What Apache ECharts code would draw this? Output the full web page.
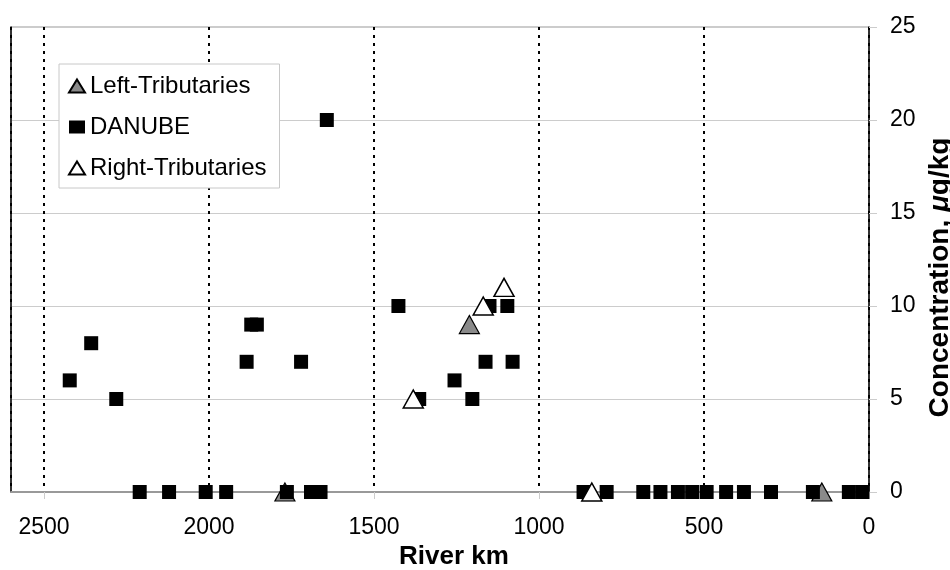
<!DOCTYPE html>
<html>
<head>
<meta charset="utf-8">
<script src="https://cdn.jsdelivr.net/npm/echarts@6/dist/echarts.min.js"></script>
<style>
html,body{margin:0;padding:0;background:#fff;}
#chart{width:950px;height:570px;}
</style>
</head>
<body>
<div id="chart"></div>
<script>
//数据：河流公里数 / 浓度
var danubeKm  = [2422, 2357, 2281, 2210, 2121, 2010, 1948, 1886, 1872, 1855, 1764, 1721, 1691, 1662, 1643,
                 1426, 1363, 1256, 1202, 1162, 1150, 1096, 1080, 865, 795, 684, 632, 579, 536, 492, 433, 379, 297, 170, 61, 20];
var danubeVal = [6, 8, 5, 0, 0, 0, 0, 7, 9, 9, 0, 7, 0, 0, 20,
                 10, 5, 6, 5, 7, 10, 10, 7, 0, 0, 0, 0, 0, 0, 0, 0, 0, 0, 0, 0, 0];
var leftKm    = [1770, 1211, 143];
var leftVal   = [0, 9, 0];
var rightKm   = [1381, 1169, 1106, 840];
var rightVal  = [5, 10, 11, 0];
var yTicks    = [0, 5, 10, 15, 20, 25];

function pairs(xs, ys){
	var arr = [];
	for (var i = 0; i < xs.length; i++) {
		arr.push([xs[i], ys[i]]);
	}
	return arr;
}

var font = '"Liberation Sans", Arial, Helvetica, sans-serif';
var myChart = echarts.init(document.getElementById('chart'));

var option = {
	backgroundColor: '#fff',
	animation: false,
	textStyle: { fontFamily: font, color: '#000' },
	grid: {
		left: 11, right: 81, top: 27, bottom: 78,
		outerBoundsMode: 'none',
		containLabel: false,
		show: true, borderColor: '#999', borderWidth: 1
	},
	legend: {
		orient: 'vertical',
		left: 59, top: 64,
		padding: [10, 13, 8, 9],
		itemGap: 17,
		itemWidth: 16,
		itemHeight: 13,
		backgroundColor: '#fff',
		borderColor: '#c8c8c8',
		borderWidth: 1,
		textStyle: { fontSize: 24, color: '#000', fontFamily: font },
		data: ['Left-Tributaries', 'DANUBE', 'Right-Tributaries']
	},
	xAxis: {
		type: 'value',
		inverse: true,
		min: 0, max: 2600, interval: 500,
		name: 'River km',
		nameLocation: 'middle',
		nameGap: 50,
		nameTextStyle: { fontSize: 26, fontWeight: 'bold', color: '#000', padding: [0, 0, 0, 28] },
		axisLine: { show: true, lineStyle: { color: '#999', width: 2 } },
		axisTick: { show: true, length: 7, lineStyle: { color: '#ccc' } },
		axisLabel: {
			fontSize: 23, color: '#000', margin: 24, showMaxLabel: false,
			formatter: function(v){ return String(v); }
		},
		splitLine: { show: true, lineStyle: { color: '#000', width: 2, type: [3, 5] } }
	},
	yAxis: [{
		type: 'value',
		position: 'right',
		min: yTicks[0], max: yTicks[yTicks.length - 1], interval: 5,
		name: '{a|Concentration, }{b|μ}{a|g/kg}',
		nameLocation: 'middle',
		nameGap: 50,
		nameTextStyle: {
			padding: [0, 36, 0, 0],
			rich: {
				a: { fontSize: 28, fontWeight: 'bold', color: '#000', fontFamily: font },
				b: { fontSize: 28, fontWeight: 'bold', fontStyle: 'italic', color: '#000', fontFamily: font }
			}
		},
		axisLine: { show: true, lineStyle: { color: '#000', width: 1.5 } },
		axisTick: { show: true, length: 8, lineStyle: { color: '#ccc' } },
		axisLabel: { fontSize: 23, color: '#000', margin: 21 },
		splitLine: { show: true, lineStyle: { color: '#ccc', width: 1 } }
	}, {
		//左边框
		type: 'value',
		position: 'left',
		min: 0, max: 25,
		axisLine: { show: true, lineStyle: { color: '#000', width: 1.5 } },
		axisTick: { show: false },
		axisLabel: { show: false },
		splitLine: { show: false }
	}],
	series: [{
		name: 'Left-Tributaries',
		type: 'scatter',
		symbol: 'triangle',
		symbolSize: [20, 18],
		itemStyle: { color: '#8a8a8a', borderColor: '#000', borderWidth: 1.2, opacity: 1 },
		data: pairs(leftKm, leftVal),
		z: 3
	}, {
		name: 'DANUBE',
		type: 'scatter',
		symbol: 'rect',
		symbolSize: 14,
		itemStyle: { color: '#000', opacity: 1 },
		data: pairs(danubeKm, danubeVal),
		z: 4
	}, {
		name: 'Right-Tributaries',
		type: 'scatter',
		symbol: 'triangle',
		symbolSize: [20, 18],
		itemStyle: { color: '#fff', borderColor: '#000', borderWidth: 1.5, opacity: 1 },
		data: pairs(rightKm, rightVal),
		z: 5
	}]
};
myChart.setOption(option);
</script>
</body>
</html>
